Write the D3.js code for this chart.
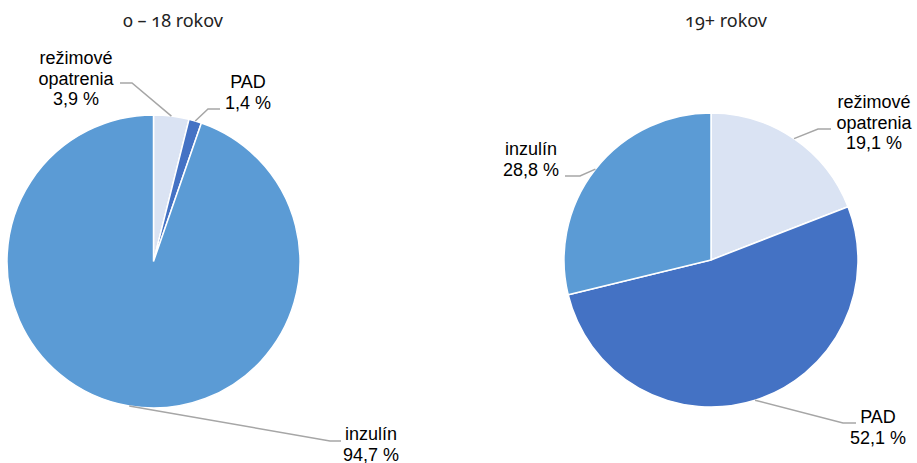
<!DOCTYPE html>
<html>
<head>
<meta charset="utf-8">
<script src="https://cdn.jsdelivr.net/npm/d3@7"></script>
<style>
  body { margin: 0; background: #fff; }
  .title { font-family: "Noto Sans", "Open Sans", sans-serif; font-size: 18px; fill: #222; font-variant-numeric: oldstyle-nums; }
  .lbl { font-family: "Liberation Sans", Arial, sans-serif; font-size: 18px; fill: #000; }
</style>
</head>
<body>
<div id="chart"></div>
<script>
// data
const categories = ['režimové opatrenia', 'PAD', 'inzulín'];
const titles = ['0 – 18 rokov', '19+ rokov'];
const values0to18 = [3.9, 1.4, 94.7];
const values19plus = [19.1, 52.1, 28.8];
const labelLines = [['režimové', 'opatrenia'], ['PAD'], ['inzulín']];

const colors = ['#DAE3F3', '#4472C4', '#5B9BD5'];

const width = 917, height = 463;
const svg = d3.select('#chart').append('svg')
    .attr('width', width)
    .attr('height', height);

const fmt = v => d3.format('.1f')(v).replace('.', ',') + ' %';

// layout of each pie: centre, radius, title position, and label placement per slice
// label: text centre x, first baseline y, elbow point (ex, ey), horizontal end hx
const pies = [
  {
    values: values0to18, cx: 153.5, cy: 261.5, r: 146.5, tx: 173, ty: 27,
    labels: [
      { x: 76, y: 64, ex: 132, ey: 83, hx: 120 },
      { x: 248, y: 88, ex: 208, ey: 109, hx: 220 },
      { x: 371, y: 440, ex: 330, ey: 441, hx: 341 }
    ]
  },
  {
    values: values19plus, cx: 711, cy: 260, r: 147, tx: 726, ty: 27,
    labels: [
      { x: 874, y: 108, ex: 818, ey: 129, hx: 831 },
      { x: 878, y: 423, ex: 843, ey: 423, hx: 856 },
      { x: 531, y: 155, ex: 580, ey: 176, hx: 565 }
    ]
  }
];

const pie = d3.pie().sort(null).value(d => d);

pies.forEach((p, pi) => {
  const g = svg.append('g').attr('transform', `translate(${p.cx},${p.cy})`);
  const arc = d3.arc().innerRadius(0).outerRadius(p.r);
  const arcs = pie(p.values);

  g.selectAll('.slice')
      .data(arcs)
      .enter()
      .append('path')
      .classed('slice', true)
      .attr('d', arc)
      .attr('fill', (d, i) => colors[i])
      .attr('stroke', '#fff')
      .attr('stroke-width', 1.5);

  svg.append('text')
      .classed('title', true)
      .attr('x', p.tx)
      .attr('y', p.ty)
      .attr('text-anchor', 'middle')
      .text(titles[pi]);

  // leader lines from slice edge at mid-angle
  arcs.forEach((d, i) => {
    const L = p.labels[i];
    const a = (d.startAngle + d.endAngle) / 2;
    const sx = p.cx + p.r * Math.sin(a);
    const sy = p.cy - p.r * Math.cos(a);
    svg.append('polyline')
        .attr('points', `${sx},${sy} ${L.ex},${L.ey} ${L.hx},${L.ey}`)
        .attr('fill', 'none')
        .attr('stroke', '#A6A6A6')
        .attr('stroke-width', 1.5);

    const lines = labelLines[i].concat([fmt(d.data)]);
    const t = svg.append('text')
        .classed('lbl', true)
        .attr('text-anchor', 'middle');
    lines.forEach((s, k) => {
      t.append('tspan')
          .attr('x', L.x)
          .attr('y', L.y + k * 20.5)
          .text(s);
    });
  });
});
</script>
</body>
</html>
